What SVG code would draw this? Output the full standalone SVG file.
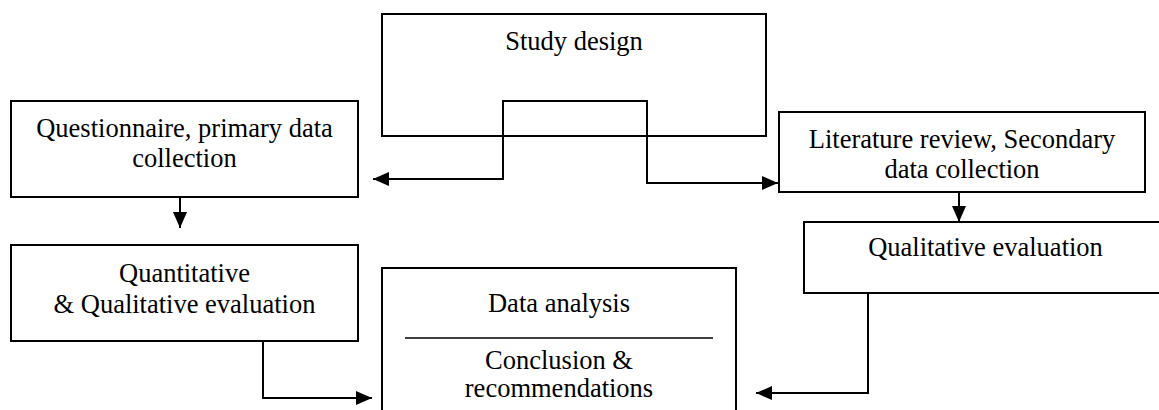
<svg xmlns="http://www.w3.org/2000/svg" width="1159" height="410" viewBox="0 0 1159 410">
  <style>
    .box { fill: #ffffff; stroke: #000000; stroke-width: 2; }
    .lbl { font-family: "Liberation Serif", "Times New Roman", Tinos, "DejaVu Serif", serif; font-size: 26.5px; fill: #000000; text-anchor: middle; }
    .wire { fill: none; stroke: #000000; stroke-width: 2; }
  </style>
  <defs>
    <marker id="arrow" markerUnits="userSpaceOnUse" markerWidth="16" markerHeight="14" refX="16" refY="7" orient="auto">
      <path d="M0,0 L16,7 L0,14 z" fill="#000000"/>
    </marker>
  </defs>
  <rect width="1159" height="410" fill="#ffffff"/>

  <g id="study-design">
    <rect class="box" x="382" y="14" width="384" height="122"/>
    <text class="lbl" x="574" y="50">Study design</text>
  </g>

  <g id="questionnaire">
    <rect class="box" x="11" y="101" width="347" height="96"/>
    <text class="lbl" x="184.5" y="137">Questionnaire, primary data</text>
    <text class="lbl" x="184.5" y="167">collection</text>
  </g>

  <g id="literature-review">
    <rect class="box" x="779" y="112" width="366" height="80"/>
    <text class="lbl" x="962" y="148">Literature review, Secondary</text>
    <text class="lbl" x="962" y="178">data collection</text>
  </g>

  <g id="quant-qual-evaluation">
    <rect class="box" x="11" y="245" width="347" height="96"/>
    <text class="lbl" x="184.5" y="282">Quantitative</text>
    <text class="lbl" x="184.5" y="313">&amp; Qualitative evaluation</text>
  </g>

  <g id="qualitative-evaluation">
    <rect class="box" x="804" y="222" width="380" height="71"/>
    <text class="lbl" x="985.5" y="256">Qualitative evaluation</text>
  </g>

  <g id="data-analysis">
    <rect class="box" x="382" y="268" width="354" height="160"/>
    <text class="lbl" x="559" y="312">Data analysis</text>
    <line x1="405" y1="338" x2="713" y2="338" stroke="#000000" stroke-width="1.3"/>
    <text class="lbl" x="559" y="369">Conclusion &amp;</text>
    <text class="lbl" x="559" y="397">recommendations</text>
  </g>

  <g id="connectors">
    <path class="wire" d="M575,101 L503,101 L503,179 L373,179" marker-end="url(#arrow)"/>
    <path class="wire" d="M575,101 L647,101 L647,183 L778,183" marker-end="url(#arrow)"/>
    <path class="wire" d="M180,197 L180,228" marker-end="url(#arrow)"/>
    <path class="wire" d="M959,192 L959,222" marker-end="url(#arrow)"/>
    <path class="wire" d="M263,341 L263,398 L372,398" marker-end="url(#arrow)"/>
    <path class="wire" d="M868,293 L868,393 L756,393" marker-end="url(#arrow)"/>
  </g>
</svg>
